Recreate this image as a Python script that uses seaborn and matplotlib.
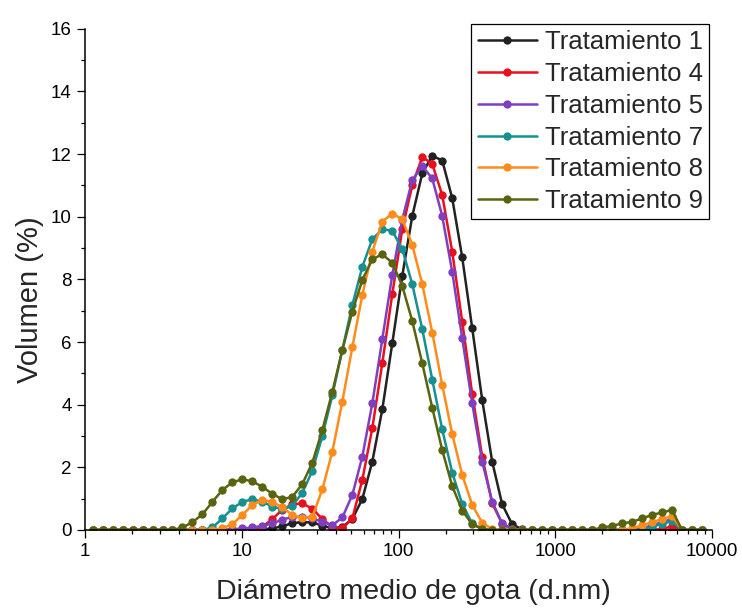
import numpy as np
import pandas as pd
import matplotlib
matplotlib.use("Agg")
import matplotlib.pyplot as plt
from matplotlib.ticker import FixedLocator, FixedFormatter, LogLocator, MultipleLocator, NullFormatter
import seaborn as sns

# Size bins (d.nm)
diametro = [1.117, 1.294, 1.499, 1.736, 2.010, 2.328, 2.696, 3.122, 3.615, 4.187,
            4.849, 5.615, 6.503, 7.531, 8.721, 10.10, 11.70, 13.54, 15.69, 18.17,
            21.04, 24.36, 28.21, 32.67, 37.84, 43.82, 50.75, 58.77, 68.06, 78.82,
            91.28, 105.7, 122.4, 141.8, 164.2, 190.1, 220.2, 255.0, 295.3, 342.0,
            396.1, 458.7, 531.2, 615.1, 712.4, 825.0, 955.4, 1106, 1281, 1484,
            1718, 1990, 2305, 2669, 3091, 3580, 4145, 4801, 5560, 6439,
            7456, 8635]

t1 = [0, 0, 0, 0, 0, 0, 0, 0, 0, 0,
      0, 0, 0, 0, 0, 0, 0, 0.02, 0.05, 0.12,
      0.22, 0.25, 0.24, 0.14, 0.05, 0.10, 0.35, 0.99, 2.18, 3.85,
      5.96, 8.11, 10.02, 11.38, 11.95, 11.79, 10.59, 8.70, 6.44, 4.15,
      2.18, 0.82, 0.18, 0.02, 0, 0, 0, 0, 0, 0,
      0, 0, 0, 0, 0, 0, 0, 0, 0, 0,
      0, 0]
t4 = [0, 0, 0, 0, 0, 0, 0, 0, 0, 0,
      0, 0, 0, 0, 0, 0, 0.02, 0.10, 0.35, 0.65,
      0.82, 0.85, 0.68, 0.35, 0.10, 0.05, 0.37, 1.60, 3.25, 5.32,
      7.53, 9.60, 11.00, 11.91, 11.68, 10.69, 8.88, 6.65, 4.34, 2.34,
      0.85, 0.20, 0.02, 0, 0, 0, 0, 0, 0, 0,
      0, 0, 0, 0, 0, 0, 0, 0.03, 0.12, 0,
      0, 0]
t5 = [0, 0, 0, 0, 0, 0, 0, 0, 0, 0,
      0, 0, 0, 0, 0.02, 0.05, 0.08, 0.13, 0.21, 0.33,
      0.42, 0.42, 0.37, 0.26, 0.15, 0.40, 1.12, 2.34, 4.04, 6.09,
      8.14, 9.90, 11.17, 11.62, 11.22, 10.02, 8.24, 6.12, 4.04, 2.18,
      0.90, 0.21, 0.02, 0, 0, 0, 0, 0, 0, 0,
      0, 0, 0, 0, 0, 0.05, 0.15, 0.25, 0.35, 0,
      0, 0]
t7 = [0, 0, 0, 0, 0, 0, 0, 0, 0, 0,
      0, 0, 0.08, 0.37, 0.69, 0.90, 0.98, 0.90, 0.75, 0.66,
      0.77, 1.19, 1.89, 3.00, 4.30, 5.75, 7.18, 8.40, 9.28, 9.60,
      9.55, 8.96, 7.85, 6.41, 4.80, 3.21, 1.83, 0.83, 0.21, 0.03,
      0, 0, 0, 0, 0, 0, 0, 0, 0, 0,
      0, 0, 0, 0, 0, 0, 0.10, 0.20, 0.28, 0,
      0, 0]
t8 = [0, 0, 0, 0, 0, 0, 0, 0, 0, 0,
      0, 0, 0, 0.05, 0.19, 0.48, 0.80, 0.96, 0.90, 0.72,
      0.48, 0.37, 0.42, 1.30, 2.50, 4.10, 5.83, 7.50, 8.88, 9.84,
      10.10, 9.92, 9.10, 7.85, 6.30, 4.63, 3.06, 1.76, 0.80, 0.23,
      0.03, 0, 0, 0, 0, 0, 0, 0, 0, 0,
      0, 0, 0, 0, 0.05, 0.15, 0.25, 0.35, 0.45, 0,
      0, 0]
t9 = [0, 0, 0, 0, 0, 0, 0, 0, 0, 0.08,
      0.25, 0.50, 0.90, 1.28, 1.52, 1.62, 1.55, 1.38, 1.15, 0.98,
      1.06, 1.47, 2.15, 3.19, 4.41, 5.74, 6.97, 7.98, 8.64, 8.80,
      8.53, 7.79, 6.67, 5.32, 3.90, 2.55, 1.40, 0.62, 0.18, 0.03,
      0, 0, 0, 0, 0, 0, 0, 0, 0, 0,
      0, 0.08, 0.13, 0.21, 0.26, 0.37, 0.48, 0.56, 0.64, 0,
      0, 0]

series_names = ["Tratamiento 1", "Tratamiento 4", "Tratamiento 5",
                "Tratamiento 7", "Tratamiento 8", "Tratamiento 9"]
series_values = [t1, t4, t5, t7, t8, t9]
colors = ["#222222", "#e8101c", "#7f3fc0", "#169090", "#ff8c1a", "#5a6410"]
x_ticks = [1, 10, 100, 1000, 10000]
x_ticklabels = ["1", "10", "100", "1000", "10000"]

df = pd.concat([pd.DataFrame({"d": diametro, "v": vals, "serie": name})
                for name, vals in zip(series_names, series_values)],
               ignore_index=True)

sns.set_style("ticks")
plt.rcParams["font.family"] = ["Liberation Sans", "DejaVu Sans"]

fig = plt.figure(figsize=(7.42, 6.08), dpi=100)
ax = fig.add_axes([85 / 742, 1 - 530 / 608, (712 - 85) / 742, (530 - 28.7) / 608])

sns.lineplot(data=df, x="d", y="v", hue="serie", hue_order=series_names,
             palette=colors, marker="o", markersize=6, markeredgewidth=0,
             linewidth=1.8, sort=False, legend=False, ax=ax)

ax.set_xscale("log")
ax.set_xlim(1, 10000)
ax.set_ylim(0, 16)
ax.xaxis.set_major_locator(FixedLocator(x_ticks))
ax.xaxis.set_major_formatter(FixedFormatter(x_ticklabels))
ax.xaxis.set_minor_locator(LogLocator(base=10, subs=np.arange(2, 10)))
ax.xaxis.set_minor_formatter(NullFormatter())
ax.yaxis.set_major_locator(MultipleLocator(2))
ax.yaxis.set_minor_locator(MultipleLocator(1))

for s in ["top", "right"]:
    ax.spines[s].set_visible(False)
for s in ["left", "bottom"]:
    ax.spines[s].set_linewidth(1.1)
    ax.spines[s].set_color("black")

ax.tick_params(which="major", direction="out", length=5.5, width=0.9,
               labelsize=13.5, pad=4, colors="black")
ax.tick_params(which="minor", direction="out", length=3, width=0.9, colors="black")

ax.set_xlabel("Diámetro medio de gota (d.nm)", fontsize=20.5)
ax.set_ylabel("Volumen (%)", fontsize=21)
ax.xaxis.set_label_coords((413 - 85) / 627, -(592 - 530) / 501.3)
ax.yaxis.set_label_coords(-(85 - 30) / 627, (530 - 300) / 501.3)
ax.xaxis.label.set_verticalalignment("center")
ax.yaxis.label.set_verticalalignment("center")

handles = ax.get_lines()[:len(series_names)]
leg = ax.legend(handles, series_names, loc="upper right",
                bbox_to_anchor=(709 / 742, 1 - 24 / 608),
                bbox_transform=fig.transFigure, borderaxespad=0,
                fontsize=18.5, frameon=True, fancybox=False, shadow=False,
                numpoints=1, handlelength=2.3, handletextpad=0.3,
                labelspacing=0.3, borderpad=0.25, markerscale=1.0)
leg.get_frame().set_edgecolor("black")
leg.get_frame().set_linewidth(0.9)
leg.get_frame().set_alpha(1)

fig.savefig("out.png", dpi=100)
